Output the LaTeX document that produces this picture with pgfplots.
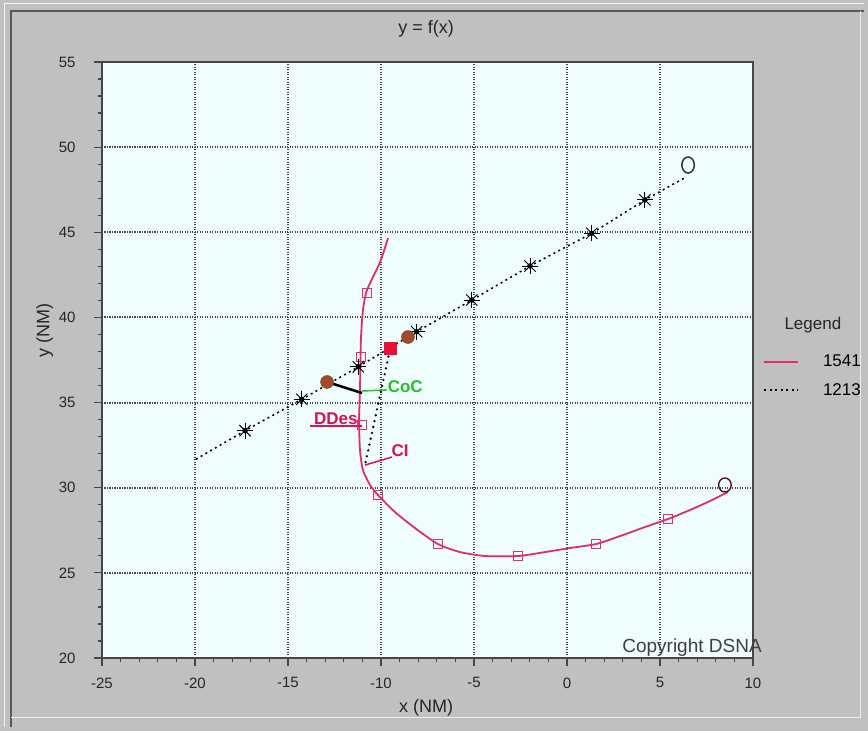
\documentclass[border=0pt]{standalone}
\usepackage{fontspec}
\setmainfont{Liberation Sans}
\usepackage{pgfplots}
\pgfplotsset{compat=1.18}
\definecolor{panelgray}{RGB}{192,192,192}
\definecolor{plotbg}{RGB}{240,253,253}
\definecolor{gridc}{RGB}{70,70,70}
\definecolor{axisc}{RGB}{70,70,70}
\definecolor{trackpink}{RGB}{224,45,110}
\definecolor{labelpink}{RGB}{215,20,80}
\definecolor{cocgreen}{RGB}{40,190,40}
\definecolor{brownm}{RGB}{160,75,45}
\definecolor{redm}{RGB}{232,16,56}
\begin{document}
\begin{tikzpicture}
\fill[panelgray] (0pt,0pt) rectangle (868pt,731pt);
\draw[white!80!panelgray, line width=1pt] (4pt,4pt) -- (4pt,727pt) -- (864pt,727pt);
\draw[black!65, line width=1.5pt] (11pt,4pt) -- (11pt,720pt) -- (864pt,720pt);
\draw[white!70!panelgray, line width=1pt] (11pt,13pt) -- (860pt,13pt) -- (860pt,720pt);
\begin{axis}[
  at={(102pt,73pt)}, anchor=south west, scale only axis,
  width=651pt, height=596pt,
  xmin=-25, xmax=10, ymin=20, ymax=55,
  xtick={-25,-20,...,10}, ytick={20,25,...,55},
  minor x tick num=4, minor y tick num=4,
  tick pos=left, tick align=outside,
  major tick length=8pt, minor tick length=4pt,
  tick style={axisc, line width=1.2pt},
  axis line style={axisc, line width=1.8pt},
  axis background/.style={fill=plotbg},
  grid=major,
  major grid style={gridc, line width=1.9pt, dash pattern=on 1.3pt off 1.2pt},
  /pgf/number format/assume math mode=true,
  ticklabel style={font=\fontsize{15}{17}\selectfont, text=black!85},
  xticklabel style={yshift=-8pt},
  yticklabel style={xshift=-15pt},
  title={y = f(x)},
  title style={at={(axis description cs:0.498,1.045)}, anchor=center, font=\fontsize{18}{20}\selectfont, text=black!85},
  xlabel={x (NM)},
  xlabel style={at={(axis description cs:0.498,-0.083)}, anchor=center, font=\fontsize{18}{20}\selectfont, text=black!85},
  ylabel={y (NM)},
  ylabel style={at={(axis description cs:-0.088,0.55)}, anchor=center, font=\fontsize{18}{20}\selectfont, text=black!85},
  clip=false,
  legend image code/.code={\draw[#1] (0pt,0pt) -- (34pt,0pt);},
  legend style={at={(axis description cs:1.0154,0.512)}, anchor=north west,
    draw=none, fill=none, inner sep=0pt, row sep=11pt,
    font=\fontsize{17}{19}\selectfont,
    /tikz/every odd column/.append style={column sep=22pt}},
]
% 1541 track
\addplot[trackpink, line width=1.8pt, smooth, tension=0.4] coordinates {
(-9.62,44.66) (-10.05,43.25) (-10.75,41.61) (-10.97,40.43) (-11.08,38.67)
(-11.13,35.74) (-11.18,33.98) (-11.13,32.21) (-10.97,31.04) (-10.59,30.16)
(-10.16,29.57) (-9.25,28.57) (-8.17,27.63) (-6.94,26.69) (-5.75,26.22)
(-4.41,25.99) (-2.63,25.99) (-1.18,26.22) (0.16,26.46) (1.56,26.69)
(2.85,27.16) (4.19,27.69) (5.43,28.16) (6.61,28.69) (7.69,29.22) (8.66,29.75)};
\addlegendentry{1541}
% 1213 track
\addplot[black, line width=1.5pt, dash pattern=on 2pt off 3.5pt] coordinates {
(-19.95,31.67) (-17.31,33.35) (-14.26,35.19) (-11.22,37.10) (-8.08,39.16)
(-5.12,41.02) (-1.99,43.02) (1.33,44.94) (4.19,46.90) (6.43,48.26)};
\addlegendentry{1213}
% squares on 1541
\addplot[only marks, mark=square, mark size=4.5pt, mark options={trackpink, line width=1pt, solid}, forget plot] coordinates {
(-10.75,41.43) (-11.08,37.67) (-11.02,33.68) (-10.16,29.57) (-6.94,26.69) (-2.63,25.99) (1.56,26.69) (5.43,28.16)};
% asterisks on 1213
\addplot[only marks, mark=+, mark size=8pt, mark options={black, line width=0.9pt, solid}, forget plot] coordinates {
(-17.31,33.35) (-14.26,35.19) (-11.22,37.10) (-8.08,39.16) (-5.12,41.02) (-1.99,43.02) (1.33,44.94) (4.19,46.90)};
\addplot[only marks, mark=x, mark size=8pt, mark options={black, line width=0.9pt, solid}, forget plot] coordinates {
(-17.31,33.35) (-14.26,35.19) (-11.22,37.10) (-8.08,39.16) (-5.12,41.02) (-1.99,43.02) (1.33,44.94) (4.19,46.90)};
\addplot[only marks, mark=*, mark size=2.5pt, mark options={black}, forget plot] coordinates {
(-17.31,33.35) (-14.26,35.19) (-11.22,37.10) (-8.08,39.16) (-5.12,41.02) (-1.99,43.02) (1.33,44.94) (4.19,46.90)};
% end circles
\addplot[only marks, mark=o, mark size=8pt, mark options={black!80, line width=1.5pt, xscale=0.78, solid}, forget plot] coordinates {(6.51,48.95)};
\addplot[only marks, mark=o, mark size=7pt, mark options={trackpink!35!black, line width=1.4pt, xscale=0.9, solid}, forget plot] coordinates {(8.49,30.16)};
% event markers
\addplot[black, line width=2.5pt, forget plot] coordinates {(-12.9,36.21) (-11.02,35.56)};
\addplot[only marks, mark=*, mark size=6.5pt, mark options={fill=brownm, draw=brownm!80!black}, forget plot] coordinates {(-12.9,36.21) (-8.55,38.85)};
\addplot[black, line width=2.6pt, dash pattern=on 0pt off 6pt, line cap=round, forget plot] coordinates {(-9.6,37.7) (-10.86,31.33)};
\addplot[only marks, mark=square*, mark size=6pt, mark options={fill=redm, draw=redm}, forget plot] coordinates {(-9.52,38.2)};
\addplot[cocgreen, line width=1.5pt, forget plot] coordinates {(-11.02,35.68) (-9.68,35.74)};
\addplot[labelpink, line width=1.5pt, forget plot] coordinates {(-13.82,33.62) (-11.02,33.62)};
\addplot[labelpink, line width=1.5pt, forget plot] coordinates {(-10.86,31.33) (-9.41,31.8)};
\node[cocgreen, font=\bfseries\fontsize{17}{19}\selectfont, anchor=west, inner sep=1pt] at (axis cs:-9.7,35.95) {CoC};
\node[labelpink, font=\bfseries\fontsize{17}{19}\selectfont, anchor=south east, inner sep=1pt] at (axis cs:-11.2,33.62) {DDes};
\node[labelpink, font=\bfseries\fontsize{17}{19}\selectfont, anchor=south west, inner sep=1pt] at (axis cs:-9.5,31.75) {CI};
\node[black!75, font=\fontsize{19}{21}\selectfont, anchor=base east, inner sep=0pt] at (axis cs:10.48,20.3) {Copyright DSNA};
\node[font=\fontsize{17}{19}\selectfont, text=black!85] at (axis description cs:1.092,0.5587) {Legend};
\end{axis}
\pgfresetboundingbox
\useasboundingbox (0pt,0pt) rectangle (868pt,731pt);
\end{tikzpicture}
\end{document}
